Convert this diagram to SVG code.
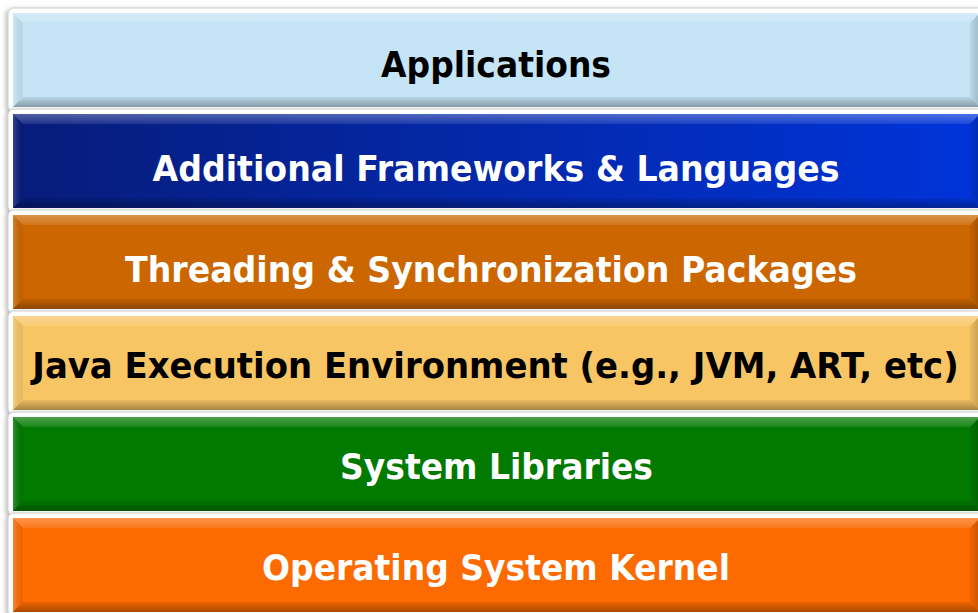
<svg xmlns="http://www.w3.org/2000/svg" width="978" height="613" viewBox="0 0 978 613">
<defs>
<filter id="sh" x="-5%" y="-20%" width="110%" height="140%">
<feDropShadow dx="-2" dy="1" stdDeviation="2" flood-color="#808080" flood-opacity="0.5"/>
</filter>
<linearGradient id="gBlue" x1="0" y1="0" x2="1" y2="0">
<stop offset="0" stop-color="#071C7A"/>
<stop offset="1" stop-color="#0034DA"/>
</linearGradient>
<linearGradient id="gTop" x1="0" y1="0" x2="0" y2="1">
<stop offset="0" stop-color="#fff" stop-opacity="0.3"/>
<stop offset="1" stop-color="#fff" stop-opacity="0.1"/>
</linearGradient>
<linearGradient id="gBot" x1="0" y1="0" x2="0" y2="1">
<stop offset="0" stop-color="#000" stop-opacity="0.06"/>
<stop offset="1" stop-color="#000" stop-opacity="0.32"/>
</linearGradient>
<linearGradient id="gLeft" x1="0" y1="0" x2="1" y2="0">
<stop offset="0" stop-color="#fff" stop-opacity="0.18"/>
<stop offset="1" stop-color="#000" stop-opacity="0.05"/>
</linearGradient>
<linearGradient id="gRight" x1="0" y1="0" x2="1" y2="0">
<stop offset="0" stop-color="#000" stop-opacity="0.05"/>
<stop offset="1" stop-color="#000" stop-opacity="0.2"/>
</linearGradient>
<g id="bev">
<polygon points="0,0 967,0 957,10 10,10" fill="url(#gTop)"/>
<polygon points="0,0 10,10 10,84 0,94" fill="url(#gLeft)"/>
<polygon points="0,94 10,84 957,84 967,94" fill="url(#gBot)"/>
<polygon points="967,0 957,10 957,84 967,94" fill="url(#gRight)"/>
</g>
</defs>
<style>
.frame{fill:#fff;stroke:#d0d0d0;stroke-width:1;filter:url(#sh)}
.t{font-family:"DejaVu Sans","Verdana",sans-serif;font-weight:bold;font-size:36px;text-anchor:middle}
.dk{fill:#000}
.lt{fill:#fff}
</style>
<rect width="978" height="613" fill="#fff"/>
<g id="layer-applications">
<rect class="frame" x="8" y="8" width="990" height="104" rx="6"/>
<rect x="13" y="13" width="967" height="94" fill="#C5E4F6"/>
<use href="#bev" x="13" y="13"/>
<text class="t dk" x="496" y="77" textLength="230" lengthAdjust="spacingAndGlyphs">Applications</text>
</g>
<g id="layer-frameworks">
<rect class="frame" x="8" y="109" width="990" height="104" rx="6"/>
<rect x="13" y="114" width="967" height="94" fill="url(#gBlue)"/>
<use href="#bev" x="13" y="114"/>
<text class="t lt" x="496" y="181" textLength="687" lengthAdjust="spacingAndGlyphs">Additional Frameworks &amp; Languages</text>
</g>
<g id="layer-threading">
<rect class="frame" x="8" y="210" width="990" height="104" rx="6"/>
<rect x="13" y="215" width="967" height="94" fill="#CC6600"/>
<use href="#bev" x="13" y="215"/>
<text class="t lt" x="491" y="282" textLength="732" lengthAdjust="spacingAndGlyphs">Threading &amp; Synchronization Packages</text>
</g>
<g id="layer-java">
<rect class="frame" x="8" y="311" width="990" height="104" rx="6"/>
<rect x="13" y="316" width="967" height="94" fill="#F7C564"/>
<use href="#bev" x="13" y="316"/>
<text class="t dk" transform="translate(495.5 378) scale(0.942 1)" x="0" y="0">Java Execution Environment (e.g., JVM, ART, etc)</text>
</g>
<g id="layer-syslibs">
<rect class="frame" x="8" y="412" width="990" height="104" rx="6"/>
<rect x="13" y="417" width="967" height="94" fill="#007A00"/>
<use href="#bev" x="13" y="417"/>
<text class="t lt" x="496.5" y="479" textLength="313" lengthAdjust="spacingAndGlyphs">System Libraries</text>
</g>
<g id="layer-kernel">
<rect class="frame" x="8" y="513" width="990" height="104" rx="6"/>
<rect x="13" y="518" width="967" height="94" fill="#FC6A00"/>
<use href="#bev" x="13" y="518"/>
<text class="t lt" x="496" y="580" textLength="468" lengthAdjust="spacingAndGlyphs">Operating System Kernel</text>
</g>
<g id="connectors"/>
</svg>
